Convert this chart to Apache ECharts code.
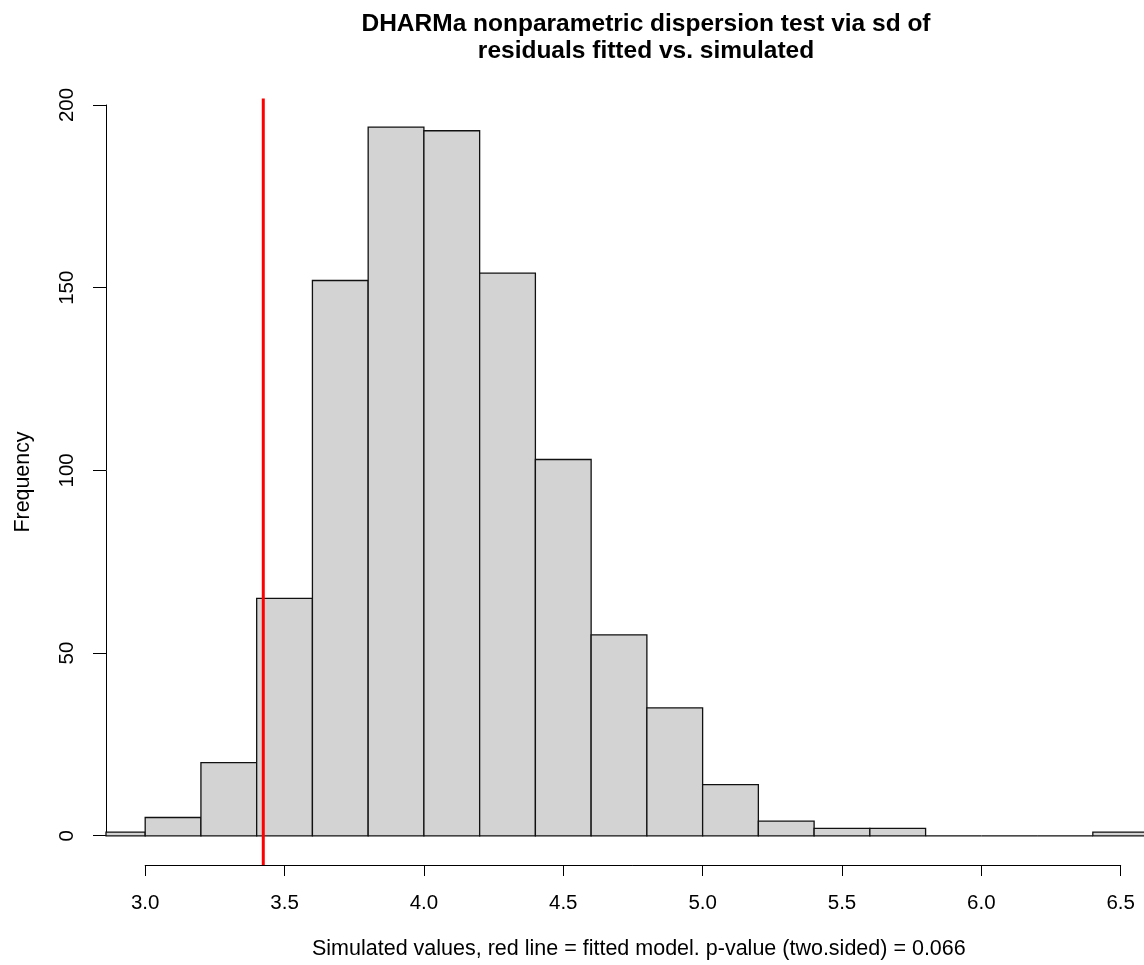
<!DOCTYPE html>
<html>
<head>
<meta charset="utf-8">
<script src="https://cdn.jsdelivr.net/npm/echarts@6/dist/echarts.min.js"></script>
<style>html,body{margin:0;padding:0;background:#fff;}#c{width:1144px;height:965px;}</style>
</head>
<body>
<div id="c"></div>
<script>
// Histogram bin edges and counts
const breaks = [2.8, 3.0, 3.2, 3.4, 3.6, 3.8, 4.0, 4.2, 4.4, 4.6, 4.8, 5.0, 5.2, 5.4, 5.6, 5.8, 6.0, 6.2, 6.4, 6.6];
const counts = [1, 5, 20, 65, 152, 194, 193, 154, 103, 55, 35, 14, 4, 2, 2, 0, 0, 0, 1];
const observed = 3.4237;
const xTicks = ['3.0', '3.5', '4.0', '4.5', '5.0', '5.5', '6.0', '6.5'];
const yTicks = ['0', '50', '100', '150', '200'];
const titleText = 'DHARMa nonparametric dispersion test via sd of\nresiduals fitted vs. simulated';
const xLabel = 'Simulated values, red line = fitted model. p-value (two.sided) = 0.066';
const yLabel = 'Frequency';

const bins = counts.map((c, i) => [breaks[i], breaks[i + 1], c]);
const FONT = 'Liberation Sans, Arial, sans-serif';

const chart = echarts.init(document.getElementById('c'), null, {renderer: 'canvas'});
chart.setOption({
  animation: false,
  backgroundColor: '#ffffff',
  title: {
    text: titleText,
    left: 641,
    top: 6,
    textAlign: 'center',
    textStyle: {fontFamily: FONT, fontWeight: 'bold', fontSize: 24.5, lineHeight: 27, color: '#000'}
  },
  graphic: [
    {type: 'text', left: 641 - 329, top: 938,
      style: {text: xLabel, fontFamily: FONT, fontSize: 21.5, fill: '#000'}},
    {type: 'text', x: 23, y: 482, rotation: Math.PI / 2,
      style: {text: yLabel, fontFamily: FONT, fontSize: 21.4, fill: '#000', align: 'center', verticalAlign: 'middle'}}
  ],
  grid: [
    {left: 106, right: 0, top: 98.6, bottom: 100, containLabel: false},
    {left: 145.2, width: 975.5, bottom: 100, height: 1, containLabel: false},
    {left: 106, width: 1, top: 105, bottom: 129.3, containLabel: false}
  ],
  xAxis: [
    {gridIndex: 0, type: 'value', min: 2.8594, max: 6.5836, show: false},
    {gridIndex: 1, type: 'value', min: 3, max: 6.5, interval: 0.5, position: 'bottom',
      axisLine: {show: true, onZero: false, lineStyle: {color: '#000', width: 1}},
      axisTick: {show: true, inside: false, length: 11, lineStyle: {color: '#000'}},
      axisLabel: {show: true, margin: 28, fontFamily: FONT, fontSize: 20.5, color: '#000',
        formatter: (v) => { const i = Math.round((v - 3) / 0.5); return xTicks[i] !== undefined ? xTicks[i] : ''; }},
      splitLine: {show: false}
    },
    {gridIndex: 2, type: 'value', min: 0, max: 1, show: false}
  ],
  yAxis: [
    {gridIndex: 0, type: 'value', min: -8.0, max: 201.8, show: false},
    {gridIndex: 1, type: 'value', min: 0, max: 1, show: false},
    {gridIndex: 2, type: 'value', min: 0, max: 200, interval: 50, position: 'left',
      axisLine: {show: true, onZero: false, lineStyle: {color: '#000', width: 1}},
      axisTick: {show: true, inside: false, length: 13, lineStyle: {color: '#000'}},
      axisLabel: {show: true, rotate: 90, margin: 28, fontFamily: FONT, fontSize: 20.5, color: '#000',
        formatter: (v) => { const i = Math.round(v / 50); return yTicks[i] !== undefined ? yTicks[i] : ''; }},
      splitLine: {show: false}
    }
  ],
  series: [
    {
      type: 'custom',
      xAxisIndex: 0, yAxisIndex: 0,
      data: bins,
      renderItem: function (params, api) {
        const x0 = api.value(0), x1 = api.value(1), h = api.value(2);
        const p0 = api.coord([x0, 0]);
        const p1 = api.coord([x1, h]);
        const rect = {x: p0[0], y: p1[1], width: p1[0] - p0[0], height: p0[1] - p1[1]};
        const cs = params.coordSys;
        const clipped = echarts.graphic.clipRectByRect(rect, {x: cs.x, y: cs.y - 2, width: cs.width + 2, height: cs.height + 4});
        if (!clipped) return null;
        return {type: 'rect', shape: clipped, style: {fill: '#D3D3D3', stroke: '#111', lineWidth: 1.3}};
      },
      z: 2
    },
    {
      type: 'line',
      xAxisIndex: 0, yAxisIndex: 0,
      data: [[observed, -8.0], [observed, 201.8]],
      symbol: 'none',
      lineStyle: {color: '#FF0000', width: 3},
      z: 3
    }
  ]
});
</script>
</body>
</html>
